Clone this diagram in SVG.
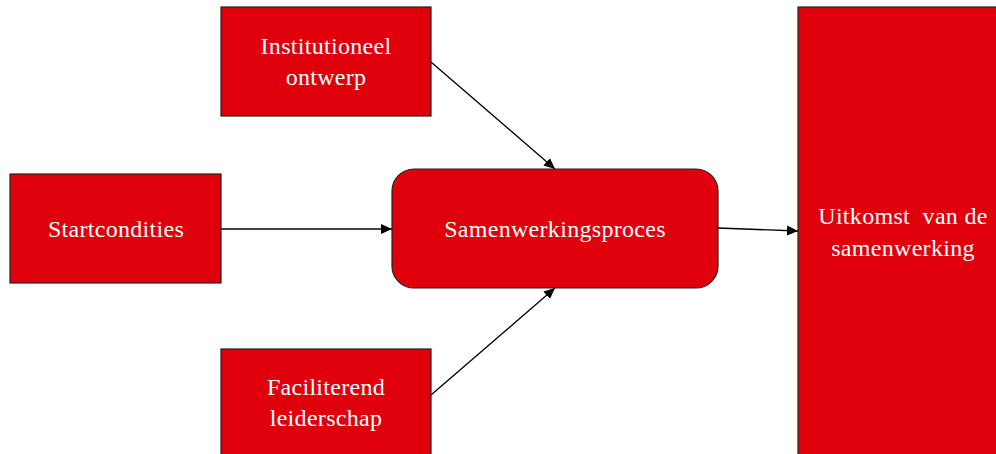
<svg xmlns="http://www.w3.org/2000/svg" width="996" height="454" viewBox="0 0 996 454">
<defs>
<style>
.box{fill:#e0000b;stroke:#222;stroke-width:1.2}
.t{font-family:"Liberation Serif","Times New Roman",serif;font-size:24px;letter-spacing:0.3px;fill:#fff;text-anchor:middle;white-space:pre}
.c{stroke:#000;stroke-width:1.3;fill:none;marker-end:url(#ah)}
</style>
<marker id="ah" markerWidth="12" markerHeight="12" refX="11" refY="5.5" orient="auto" markerUnits="userSpaceOnUse">
<path d="M0,0.5 L11,5.5 L0,10.5 Z" fill="#000"/>
</marker>
</defs>
<rect width="996" height="454" fill="#fff"/>
<g id="connectors">
<line class="c" x1="221" y1="229" x2="392" y2="229"/>
<line class="c" x1="431" y1="62" x2="555" y2="169"/>
<line class="c" x1="431" y1="395" x2="555" y2="288"/>
<line class="c" x1="718" y1="228" x2="798" y2="231"/>
</g>
<g id="startcondities">
<rect class="box" x="10" y="174" width="211" height="109"/>
<text class="t" x="116" y="237">Startcondities</text>
</g>
<g id="institutioneel">
<rect class="box" x="221" y="7" width="210" height="109"/>
<text class="t" x="326" y="54">Institutioneel</text>
<text class="t" x="326" y="85">ontwerp</text>
</g>
<g id="faciliterend">
<rect class="box" x="221" y="349" width="210" height="115"/>
<text class="t" x="326" y="395">Faciliterend</text>
<text class="t" x="326" y="426">leiderschap</text>
</g>
<g id="samenwerkingsproces">
<rect class="box" x="392" y="169" width="326" height="119" rx="22" ry="22"/>
<text class="t" x="555" y="237">Samenwerkingsproces</text>
</g>
<g id="uitkomst">
<rect class="box" x="798" y="7" width="210" height="460"/>
<text class="t" x="903" y="224">Uitkomst  van de</text>
<text class="t" x="903" y="256">samenwerking</text>
</g>
</svg>
